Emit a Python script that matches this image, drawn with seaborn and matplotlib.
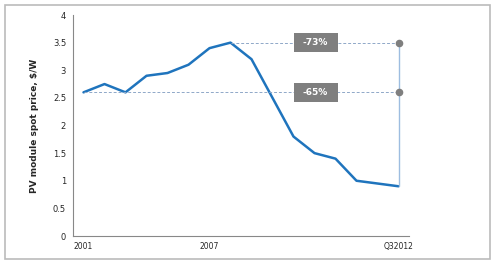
import matplotlib
matplotlib.use("Agg")
import matplotlib.pyplot as plt
import seaborn as sns
import pandas as pd
import numpy as np
from matplotlib.patches import Rectangle

periods = ["2001", "2002", "2003", "2004", "2005", "2006", "2007", "2008", "2009",
           "2010a", "2010b", "2011a", "2011b", "2012a", "2012b", "Q32012"]
prices = [2.6, 2.75, 2.6, 2.9, 2.95, 3.1, 3.4, 3.5, 3.2, 2.5, 1.8, 1.5, 1.4, 1.0, 0.95, 0.9]
tick_labels = {0: "2001", 6: "2007", 15: "Q32012"}
annotations = ["-73%", "-65%"]

sns.set_style("white")
plt.rcParams['font.family'] = ['DejaVu Sans']

df = pd.DataFrame({"idx": np.arange(len(periods)), "price": prices})

fig = plt.figure(figsize=(4.99, 2.66), dpi=100)
ax = fig.add_axes([73/499, 30/266, (409-73)/499, (236-15)/266])

sns.lineplot(data=df, x="idx", y="price", ax=ax, color="#1f74bd", linewidth=1.8)

peak_i = int(np.argmax(prices))
last_i = len(prices) - 1
peak = prices[peak_i]
start = prices[0]
last = prices[-1]

ax.plot([peak_i, last_i], [peak, peak], ls=(0, (3, 2)), color="#8fa8c8", lw=0.7)
ax.plot([0, last_i], [start, start], ls=(0, (3, 2)), color="#8fa8c8", lw=0.7)
ax.plot([last_i, last_i], [last, peak], color="#9dbde0", lw=1.0)
ax.scatter([last_i, last_i], [peak, start], s=20, color="#7f7f7f", zorder=5)

bw, bh = 2.1, 0.34
for txt, yv in zip(annotations, [peak, start]):
    ax.add_patch(Rectangle((11.05 - bw/2, yv - bh/2), bw, bh, fc="#7f7f7f", ec="none", zorder=6))
    ax.text(11.05, yv, txt, ha="center", va="center", color="white", fontsize=6.5,
            fontweight="bold", zorder=7)

ax.set_xlim(-0.5, 15.5)
ax.set_ylim(0, 4)
ax.set_xticks(np.arange(-0.5, 16, 1))
ax.set_xticklabels([])
ax.set_xticks(list(tick_labels.keys()), minor=True)
ax.set_xticklabels(list(tick_labels.values()), minor=True, fontsize=5.5)
ax.tick_params(axis="x", which="major", length=3, color="#888888", width=0.6)
ax.tick_params(axis="x", which="minor", length=0, pad=4)
ax.set_yticks(np.arange(0, 4.01, 0.5))
ax.set_yticklabels(["0", "0.5", "1", "1.5", "2", "2.5", "3", "3.5", "4"], fontsize=6)
ax.tick_params(axis="y", length=3, color="#888888", width=0.6, pad=2)
ax.set_xlabel("")
ax.set_ylabel("PV module spot price, $/W", fontsize=6.5, fontweight="bold", labelpad=10)

for s in ["top", "right"]:
    ax.spines[s].set_visible(False)
for s in ["left", "bottom"]:
    ax.spines[s].set_color("#888888")
    ax.spines[s].set_linewidth(0.8)

fig.patches.append(Rectangle((5/499, 7/266), 485/499, 254/266, transform=fig.transFigure,
                             fill=False, ec="#bbbbbb", lw=1.2))

fig.savefig("out.png", dpi=100)
